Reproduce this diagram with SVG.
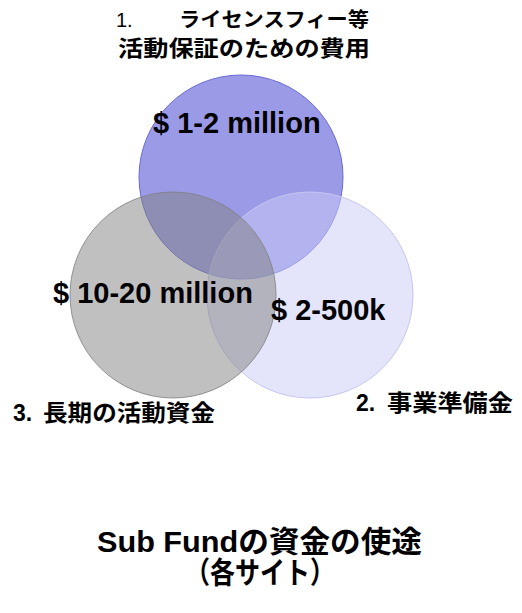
<svg xmlns="http://www.w3.org/2000/svg" width="522" height="613" viewBox="0 0 522 613">
<style>
text { font-family: "Liberation Sans", "Noto Sans CJK JP", sans-serif; font-weight: bold; fill: #000; }
.amt { font-size: 29px; }
.lbl { font-size: 23px; }
.hdr { font-size: 20px; }
.ttl { font-size: 30px; }
</style>
<rect width="522" height="613" fill="#fff"/>
<g id="circle-1">
  <circle cx="241" cy="177" r="102" fill="#9a9ae6" stroke="#6a6ad6" stroke-width="1"/>
</g>
<g id="circle-2">
  <circle cx="310" cy="295" r="103" fill="rgb(204,204,248)" fill-opacity="0.52" stroke="#c6c6f2" stroke-width="1"/>
</g>
<g id="circle-3">
  <circle cx="173" cy="295" r="103" fill="rgb(129,129,129)" fill-opacity="0.5" stroke="#808080" stroke-opacity="0.8" stroke-width="1"/>
</g>
<g id="connectors"></g>
<g id="amounts">
  <text class="amt" x="153" y="133">$ 1-2 million</text>
  <text class="amt" x="53" y="303">$ 10-20 million</text>
  <text class="amt" x="271" y="320">$ 2-500k</text>
</g>
<g id="label-1">
  <text class="hdr" x="116" y="27" style="font-weight:normal">1.</text>
  <text class="hdr" x="179" y="27" textLength="190" lengthAdjust="spacingAndGlyphs">ライセンスフィー等</text>
  <text class="hdr" x="118" y="56" style="font-size:22px" textLength="252" lengthAdjust="spacingAndGlyphs">活動保証のための費用</text>
</g>
<g id="label-2">
  <text class="lbl" x="356" y="411">2.</text>
  <text class="lbl" x="387" y="411" textLength="126" lengthAdjust="spacingAndGlyphs">事業準備金</text>
</g>
<g id="label-3">
  <text class="lbl" x="13" y="421">3.</text>
  <text class="lbl" x="43" y="421" textLength="172" lengthAdjust="spacingAndGlyphs">長期の活動資金</text>
</g>
<g id="title">
  <text class="ttl" x="97" y="552" textLength="325" lengthAdjust="spacingAndGlyphs">Sub Fundの資金の使途</text>
  <text class="ttl" x="185" y="583" textLength="150" lengthAdjust="spacingAndGlyphs">（各サイト）</text>
</g>
</svg>
